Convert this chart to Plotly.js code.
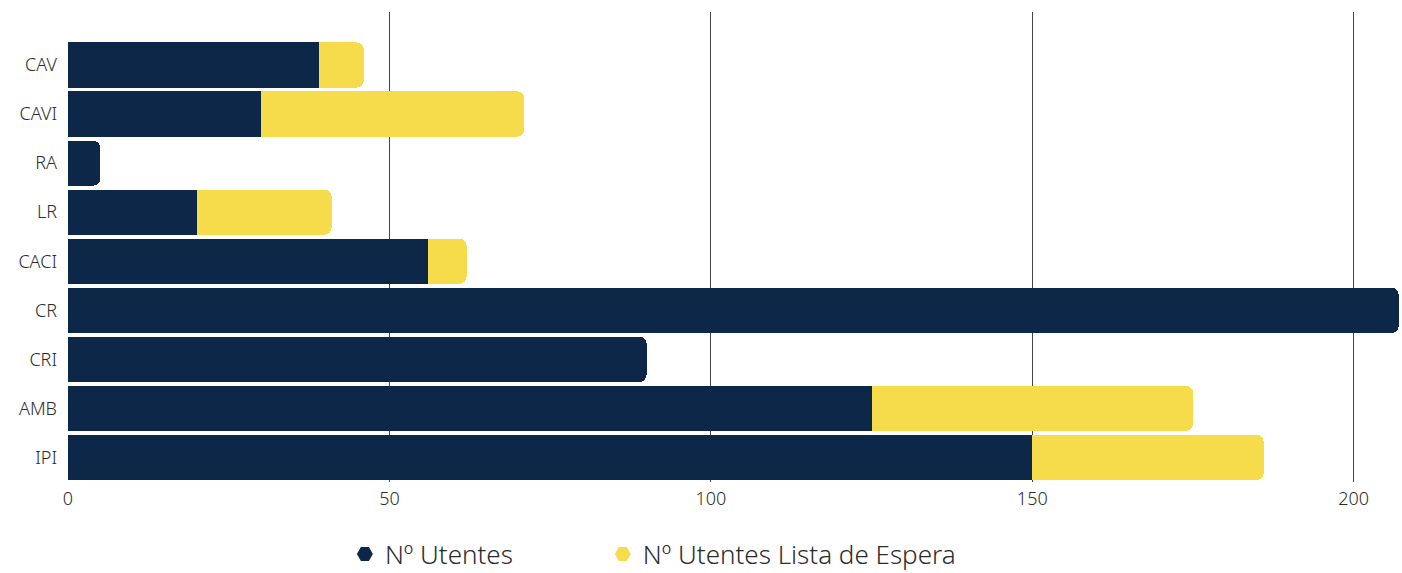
<!DOCTYPE html>
<html>
<head>
<meta charset="utf-8">
<script src="https://cdn.plot.ly/plotly-3.0.1.min.js"></script>
<style>
  html, body { margin: 0; padding: 0; background: #fff; }
  #chart { width: 1402px; height: 573px; }
</style>
</head>
<body>
<div id="chart"></div>
<script>
// categorias de baixo para cima
const categorias = ['IPI', 'AMB', 'CRI', 'CR', 'CACI', 'LR', 'RA', 'CAVI', 'CAV'];
const utentes = [150, 125, 90, 207, 56, 20, 5, 30, 39];
const listaEspera = [36, 50, 0, 0, 6, 21, 0, 41, 7];
const nomes = ['Nº Utentes', 'Nº Utentes Lista de Espera'];
const cores = ['#0c2748', '#f6dc4b'];
const ticksX = [0, 50, 100, 150, 200];

const traces = [
    { type: 'bar', orientation: 'h', y: categorias, x: utentes, name: nomes[0],
      marker: { color: cores[0] }, showlegend: false, hoverinfo: 'x+y' },
    { type: 'bar', orientation: 'h', y: categorias, x: listaEspera, name: nomes[1],
      marker: { color: cores[1] }, showlegend: false, hoverinfo: 'x+y' },
    // entradas da legenda com hexágono (uma legenda para cada, para o espaçamento)
    { type: 'scatter', mode: 'markers', x: [null], y: [null], name: nomes[0],
      legend: 'legend', marker: { symbol: 'hexagon2', size: 26, color: cores[0] } },
    { type: 'scatter', mode: 'markers', x: [null], y: [null], name: nomes[1],
      legend: 'legend2', marker: { symbol: 'hexagon2', size: 26, color: cores[1] } }
];

const legendaBase = {
    orientation: 'h', xref: 'container', xanchor: 'left',
    yref: 'container', y: 0.033, yanchor: 'middle',
    bgcolor: 'rgba(0,0,0,0)',
    font: { size: 26, color: '#2b2b2b', weight: 300 }
};

const layout = {
    width: 1402, height: 573,
    margin: { l: 68, r: 2, t: 12, b: 91, autoexpand: false },
    paper_bgcolor: '#fff', plot_bgcolor: '#fff',
    font: { family: 'Noto Sans, sans-serif', color: '#2b2b2b', size: 18, weight: 300 },
    barmode: 'stack',
    bargap: 0.08,
    barcornerradius: 7,
    xaxis: {
        range: [0, 207.2], tickvals: ticksX, showgrid: true, automargin: false,
        gridcolor: '#444', gridwidth: 1, zeroline: false, showline: false,
        ticks: '', tickfont: { size: 18 }, ticklabelstandoff: 4
    },
    yaxis: {
        type: 'category', categoryorder: 'array', categoryarray: categorias,
        range: [-0.5, 9.08], showgrid: false, zeroline: false, ticks: '',
        automargin: false, ticklabelstandoff: 10, tickfont: { size: 18 }
    },
    legend: Object.assign({}, legendaBase, { x: 0.246 }),
    legend2: Object.assign({}, legendaBase, { x: 0.43 }),
    showlegend: true
};

Plotly.newPlot('chart', traces, layout, { displayModeBar: false });
</script>
</body>
</html>
